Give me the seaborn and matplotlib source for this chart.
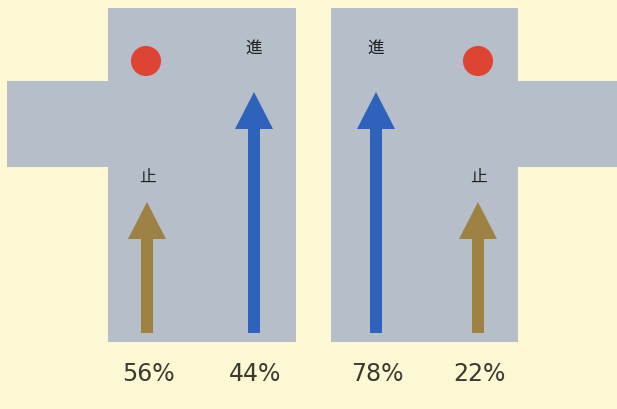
import matplotlib
matplotlib.use("Agg")
import matplotlib.pyplot as plt
import seaborn as sns
import pandas as pd
from matplotlib.patches import Polygon, FancyArrow

# ---- data ----
panels = ["left", "left", "right", "right"]
actions = ["止", "進", "進", "止"]          # stop / go
percentages = [56, 44, 78, 22]

# ---- layout (pixel space of a 617x410 canvas) ----
arrow_x = [147, 254, 376, 478]
arrow_base = 334
arrow_tip = {"止": 203, "進": 93}
label_y = {"止": 177, "進": 48}
dot_x = [146, 478]
dot_y = 62

BG = "#FBF8D3"
PANEL = "#B5BEC9"
RED = "#DF4433"
BLUE = "#2F62BA"
TAN = "#9E8244"
TXT = "#3A3A30"
arrow_col = {"止": TAN, "進": BLUE}

sns.set_theme(style="white")
plt.rcParams["font.family"] = ["Noto Sans CJK JP", "DejaVu Sans"]

fig = plt.figure(figsize=(6.17, 4.10), dpi=100)
fig.patch.set_facecolor(BG)
ax = fig.add_axes([0, 0, 1, 1])
ax.set_facecolor(BG)
ax.set_xlim(0, 617)
ax.set_ylim(410, 0)
ax.axis("off")

# T-shaped grey panels
left_shape = [(108, 9), (296, 9), (296, 343), (108, 343), (108, 168),
              (7, 168), (7, 82), (108, 82)]
right_shape = [(331, 9), (518, 9), (518, 82), (617, 82), (617, 168),
               (518, 168), (518, 343), (331, 343)]
for shp in (left_shape, right_shape):
    ax.add_patch(Polygon(shp, closed=True, facecolor=PANEL, edgecolor="none", zorder=1))

# red signal dots
dots = pd.DataFrame({"x": dot_x, "y": [dot_y] * len(dot_x)})
sns.scatterplot(data=dots, x="x", y="y", s=470, color=RED, edgecolor="none",
                ax=ax, zorder=3, legend=False)
ax.set_xlim(0, 617)
ax.set_ylim(410, 0)
ax.axis("off")

# arrows, action labels and percentages
for x, act, pct in zip(arrow_x, actions, percentages):
    tip = arrow_tip[act]
    ax.add_patch(FancyArrow(x, arrow_base, 0, tip - arrow_base, width=12,
                            head_width=38, head_length=37,
                            length_includes_head=True,
                            facecolor=arrow_col[act], edgecolor="none", zorder=3))
    ax.text(x, label_y[act], act, ha="center", va="center", fontsize=12,
            color="#222222", zorder=4)
    ax.text(x + 1, 374, f"{pct}%", ha="center", va="center", fontsize=17,
            color=TXT, family=["DejaVu Sans"], zorder=4)

fig.savefig("out.png", dpi=100, facecolor=BG)
